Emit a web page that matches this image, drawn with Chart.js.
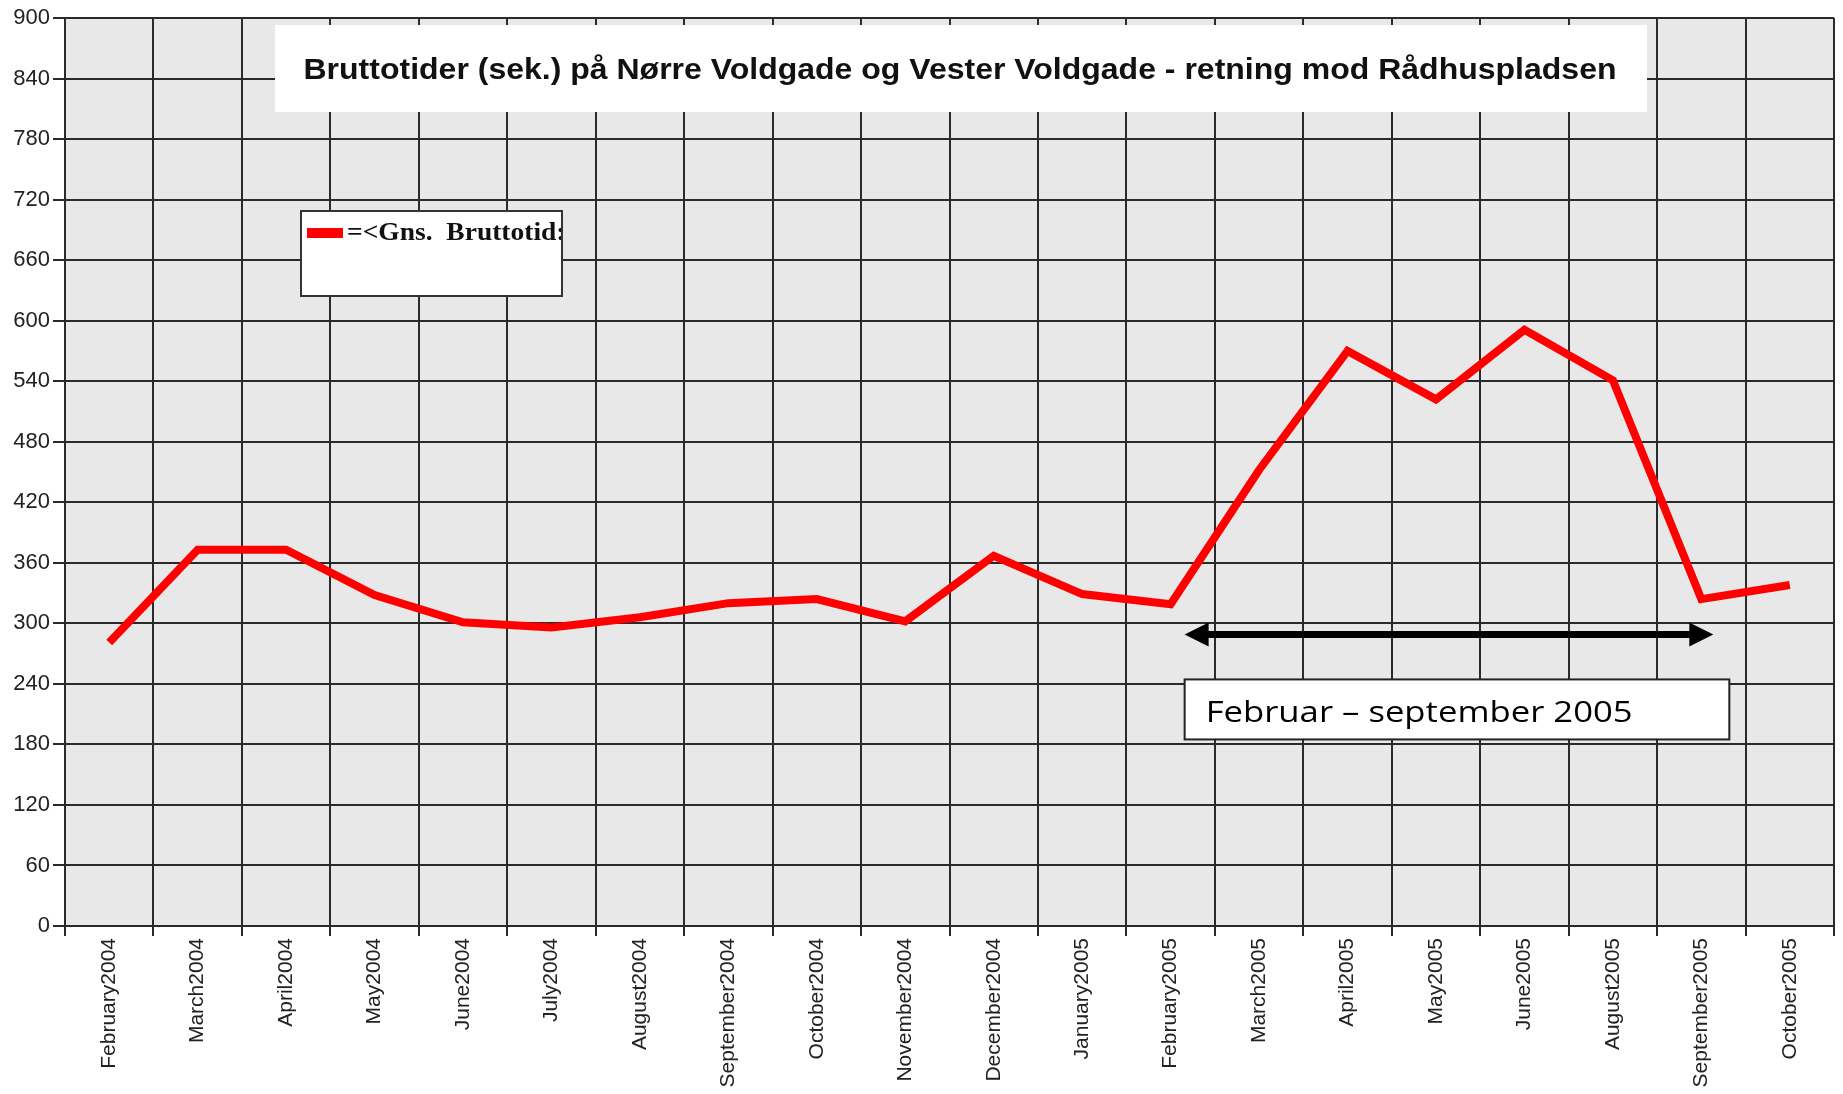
<!DOCTYPE html>
<html>
<head>
<meta charset="utf-8">
<script src="https://cdn.jsdelivr.net/npm/chart.js@4/dist/chart.umd.min.js"></script>
<style>
  html, body { margin: 0; padding: 0; background: #ffffff; }
  #wrap { width: 1843px; height: 1094px; position: relative; }
</style>
</head>
<body>
<div id="wrap"><canvas id="c" width="1843" height="1094"></canvas></div>
<script>
// ---- data ----
const categories = ['February2004','March2004','April2004','May2004','June2004','July2004','August2004','September2004','October2004','November2004','December2004','January2005','February2005','March2005','April2005','May2005','June2005','August2005','September2005','October2005'];
const seriesName = '=<Gns.  Bruttotid:';
const grossTimes = [281, 373, 373, 328, 301, 296, 306, 320, 324, 302, 367, 329, 319, 452, 570, 522, 591, 541, 324, 338];
const yTicks = [0, 60, 120, 180, 240, 300, 360, 420, 480, 540, 600, 660, 720, 780, 840, 900];
const titleText = 'Bruttotider (sek.) på Nørre Voldgade og Vester Voldgade - retning mod Rådhuspladsen';
const periodLabel = 'Februar \u2013 september 2005';
const periodFrom = 'February2005';
const periodTo = 'September2005';
const periodArrowValue = 289;

// draw text stretched horizontally to a given width
function fitText(ctx, text, x, y, width, align) {
  const w = ctx.measureText(text).width;
  const s = width / w;
  ctx.save();
  ctx.textAlign = 'left';
  const startX = align === 'center' ? x - width / 2 : x;
  ctx.translate(startX, y);
  ctx.scale(s, 1);
  ctx.fillText(text, 0, 0);
  ctx.restore();
}

// ---- plugins ----
const plotBg = {
  id: 'plotBg',
  beforeDraw(chart) {
    const a = chart.chartArea, ctx = chart.ctx;
    ctx.save();
    ctx.fillStyle = '#e8e8e8';
    ctx.fillRect(a.left, a.top, a.right - a.left, a.bottom - a.top);
    ctx.restore();
  }
};

const overlays = {
  id: 'overlays',
  afterDatasetsDraw(chart) {
    const ctx = chart.ctx;
    const x = chart.scales.x, y = chart.scales.y;
    ctx.save();

    // Title box
    ctx.fillStyle = '#ffffff';
    ctx.fillRect(275, 25, 1372, 87);
    ctx.fillStyle = '#111111';
    ctx.font = 'bold 30px "Liberation Sans", Arial, sans-serif';
    ctx.textBaseline = 'alphabetic';
    fitText(ctx, titleText, 960, 79, 1313, 'center');

    // Legend box
    const lx = 301, ly = 211, lw = 261, lh = 85;
    ctx.fillStyle = '#ffffff';
    ctx.fillRect(lx, ly, lw, lh);
    ctx.strokeStyle = '#333333';
    ctx.lineWidth = 2;
    ctx.strokeRect(lx, ly, lw, lh);
    const ds = chart.data.datasets[0];
    ctx.fillStyle = ds.borderColor;
    ctx.fillRect(lx + 6, ly + 17, 36, 10);
    ctx.save();
    ctx.beginPath();
    ctx.rect(lx, ly, lw - 1, lh);
    ctx.clip();
    ctx.fillStyle = '#111111';
    ctx.font = 'bold 25px "Liberation Serif", "Times New Roman", serif';
    ctx.textBaseline = 'alphabetic';
    const lt = ctx.measureText(ds.label).width;
    fitText(ctx, ds.label, lx + 46, ly + 29, lt * 1.1, 'left');
    ctx.restore();

    // Period arrow
    const i0 = categories.indexOf(periodFrom), i1 = categories.indexOf(periodTo);
    const ax0 = x.getPixelForValue(i0) + 14;
    const ax1 = x.getPixelForValue(i1) + 12;
    const ay = y.getPixelForValue(periodArrowValue);
    ctx.strokeStyle = '#000000';
    ctx.fillStyle = '#000000';
    ctx.lineWidth = 7;
    ctx.beginPath();
    ctx.moveTo(ax0 + 20, ay);
    ctx.lineTo(ax1 - 20, ay);
    ctx.stroke();
    ctx.beginPath();
    ctx.moveTo(ax0, ay); ctx.lineTo(ax0 + 24, ay - 12); ctx.lineTo(ax0 + 24, ay + 12); ctx.closePath();
    ctx.fill();
    ctx.beginPath();
    ctx.moveTo(ax1, ay); ctx.lineTo(ax1 - 24, ay - 12); ctx.lineTo(ax1 - 24, ay + 12); ctx.closePath();
    ctx.fill();

    // Period text box
    const bx = ax0, by = ay + 45, bw = ax1 - ax0 + 16, bh = 60;
    ctx.fillStyle = '#ffffff';
    ctx.fillRect(bx, by, bw, bh);
    ctx.strokeStyle = '#222222';
    ctx.lineWidth = 2;
    ctx.strokeRect(bx, by, bw, bh);
    ctx.fillStyle = '#000000';
    ctx.font = '30px "Open Sans", "Liberation Sans", sans-serif';
    ctx.textBaseline = 'alphabetic';
    fitText(ctx, periodLabel, bx + 21, by + 43, 427, 'left');

    ctx.restore();
  }
};

new Chart(document.getElementById('c'), {
  type: 'line',
  data: {
    labels: categories,
    datasets: [{
      label: seriesName,
      data: grossTimes,
      borderColor: '#ff0000',
      backgroundColor: '#ff0000',
      borderWidth: 8,
      pointRadius: 0,
      pointHoverRadius: 0,
      tension: 0,
      fill: false,
      borderJoinStyle: 'miter',
      borderCapStyle: 'butt'
    }]
  },
  options: {
    responsive: false,
    animation: false,
    events: [],
    layout: { padding: { left: 0, right: 9, top: 18, bottom: 0 } },
    plugins: {
      legend: { display: false },
      title: { display: false },
      tooltip: { enabled: false }
    },
    scales: {
      x: {
        type: 'category',
        offset: true,
        grid: {
          offset: true,
          color: '#2a2a2a',
          lineWidth: 2,
          drawTicks: true,
          tickLength: 10,
          tickColor: '#2a2a2a',
          tickWidth: 2
        },
        border: { display: true, color: '#2a2a2a', width: 2 },
        ticks: {
          autoSkip: false,
          minRotation: 90,
          maxRotation: 90,
          padding: 2,
          color: '#222222',
          font: { family: '"Liberation Sans", Arial, sans-serif', size: 21 }
        },
        afterFit(scale) { scale.height = 168; }
      },
      y: {
        min: 0,
        max: 900,
        afterBuildTicks(scale) { scale.ticks = yTicks.map(v => ({ value: v })); },
        grid: {
          color: '#2a2a2a',
          lineWidth: 2,
          drawTicks: true,
          tickLength: 12,
          tickColor: '#2a2a2a',
          tickWidth: 2
        },
        border: { display: true, color: '#2a2a2a', width: 2 },
        ticks: {
          padding: 3,
          color: '#222222',
          font: { family: '"Liberation Sans", Arial, sans-serif', size: 22 }
        },
        afterFit(scale) { scale.width = 65; }
      }
    }
  },
  plugins: [plotBg, overlays]
});
</script>
</body>
</html>
